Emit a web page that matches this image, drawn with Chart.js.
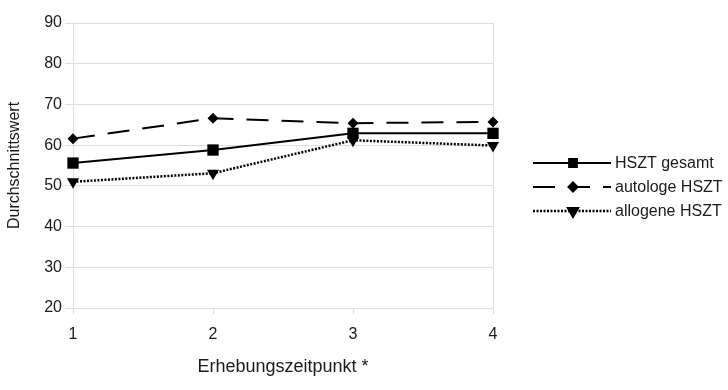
<!DOCTYPE html>
<html>
<head>
<meta charset="utf-8">
<script src="https://cdn.jsdelivr.net/npm/chart.js@4/dist/chart.umd.min.js"></script>
<style>
  html, body { margin: 0; padding: 0; background: #fff; }
  #wrap { width: 728px; height: 390px; }
</style>
</head>
<body>
<div id="wrap"><canvas id="chart" width="728" height="390"></canvas></div>
<script>
const timepoints = ['1', '2', '3', '4'];
const gesamt = [55.6, 58.8, 62.9, 62.9];
const autologe = [61.6, 66.6, 65.4, 65.7];
const allogene = [51.0, 53.1, 61.2, 59.9];
const yTicks = [20, 30, 40, 50, 60, 70, 80, 90];

const gridGray = '#dedede';
const textCol = '#1a1a1a';
const font = { family: '"Liberation Sans", Arial, sans-serif', size: 16 };

// legend drawn on the right, line + marker like the original
const sideLegend = {
  id: 'sideLegend',
  afterDraw(chart) {
    const ctx = chart.ctx;
    const rows = [163, 187, 211];
    const marks = [
      { pointStyle: 'rect', radius: 5.5, rotation: 0 },
      { pointStyle: 'rectRot', radius: 4.5, rotation: 0 },
      { pointStyle: 'triangle', radius: 5.5, rotation: 180 }
    ];
    chart.data.datasets.forEach((ds, i) => {
      const y = rows[i];
      ctx.save();
      ctx.strokeStyle = '#000';
      ctx.lineWidth = ds.borderWidth;
      ctx.setLineDash(i === 1 ? [22, 13] : (ds.borderDash || []));
      ctx.beginPath();
      ctx.moveTo(533, y);
      ctx.lineTo(611, y);
      ctx.stroke();
      ctx.setLineDash([]);
      ctx.fillStyle = '#000';
      Chart.helpers.drawPoint(ctx, Object.assign({ borderWidth: 1 }, marks[i]), 573, y);
      ctx.font = font.size + 'px ' + font.family;
      ctx.textBaseline = 'middle';
      ctx.fillStyle = textCol;
      ctx.fillText(ds.label, 615, y + 1);
      ctx.restore();
    });
  }
};

new Chart(document.getElementById('chart'), {
  type: 'line',
  data: {
    labels: timepoints,
    datasets: [
      {
        label: 'HSZT gesamt',
        data: gesamt,
        borderColor: '#000',
        backgroundColor: '#000',
        borderWidth: 2,
        pointStyle: 'rect',
        pointRadius: 8,
        pointBorderWidth: 0
      },
      {
        label: 'autologe HSZT',
        data: autologe,
        borderColor: '#000',
        backgroundColor: '#000',
        borderWidth: 2,
        borderDash: [22, 13],
        pointStyle: 'rectRot',
        pointRadius: 5.5,
        pointBorderWidth: 0
      },
      {
        label: 'allogene HSZT',
        data: allogene,
        borderColor: '#000',
        backgroundColor: '#000',
        borderWidth: 2.5,
        borderDash: [2, 1.5],
        pointStyle: 'triangle',
        pointRotation: 180,
        pointRadius: 7,
        pointBorderWidth: 0
      }
    ]
  },
  options: {
    responsive: false,
    animation: false,
    layout: { padding: { top: 23, right: 235, left: 0, bottom: 0 } },
    plugins: {
      legend: { display: false },
      tooltip: { enabled: false }
    },
    scales: {
      x: {
        type: 'category',
        offset: false,
        afterFit(s) { s.height = 82; },
        border: { display: false },
        grid: {
          color: c => (c.index === 0 || c.index === timepoints.length - 1) ? gridGray : 'rgba(0,0,0,0)',
          tickColor: gridGray,
          tickLength: 6
        },
        ticks: { color: textCol, font: font, padding: 11, maxRotation: 0 },
        title: {
          display: true,
          text: 'Erhebungszeitpunkt *',
          color: textCol,
          font: { family: font.family, size: 18 },
          padding: { top: 0, bottom: 12 }
        }
      },
      y: {
        min: 20,
        max: 90,
        afterFit(s) { s.width = 73; },
        afterBuildTicks(s) { s.ticks = yTicks.map(v => ({ value: v })); },
        border: { display: true, color: gridGray },
        grid: { color: gridGray, tickColor: gridGray, tickLength: 8 },
        ticks: { color: textCol, font: font, padding: 3 },
        title: {
          display: true,
          text: 'Durchschnittswert',
          color: textCol,
          font: font,
          padding: { top: 5, bottom: 0 }
        }
      }
    }
  },
  plugins: [sideLegend]
});
</script>
</body>
</html>
